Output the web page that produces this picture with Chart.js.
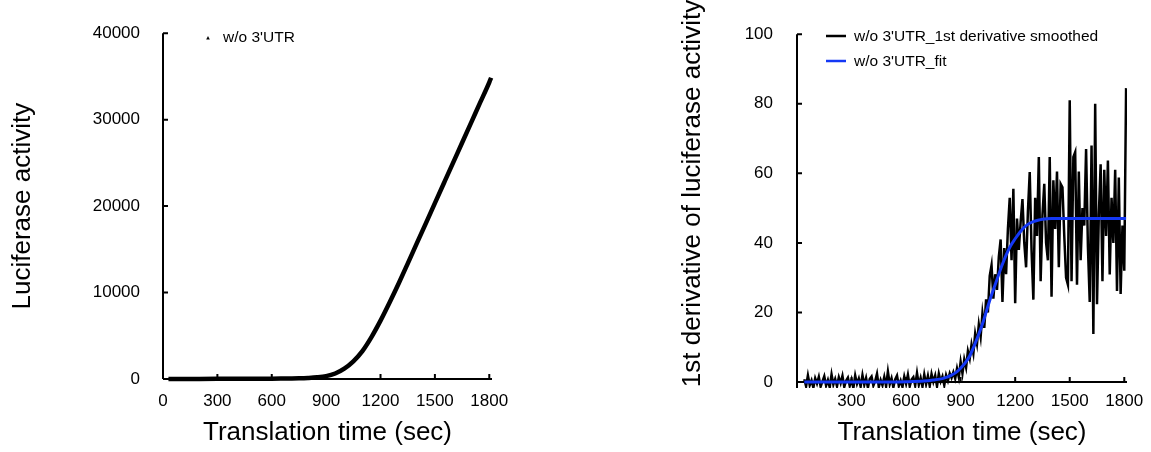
<!DOCTYPE html>
<html>
<head>
<meta charset="utf-8">
<script src="https://cdn.jsdelivr.net/npm/chart.js@4.4.1/dist/chart.umd.min.js"></script>
<style>
  html, body { margin: 0; padding: 0; background: #fff; }
  #left { position: absolute; left: 0; top: 0; width: 575px; height: 452px; }
  #right { position: absolute; left: 575px; top: 0; width: 576px; height: 452px; }
</style>
</head>
<body>
<div id="left"><canvas id="lucChart"></canvas></div>
<div id="right"><canvas id="derivChart"></canvas></div>
<script>
// tick labels
const xTickValues = [0, 300, 600, 900, 1200, 1500, 1800];
const lucYTicks = [0, 10000, 20000, 30000, 40000];
const derivYTicks = [0, 20, 40, 60, 80, 100];

// left: luciferase activity (w/o 3'UTR)
const lucTimes = [30, 100, 200, 300, 400, 500, 600, 650, 700, 750, 800, 850, 900, 950, 1000, 1050,
  1100, 1150, 1200, 1250, 1300, 1350, 1400, 1450, 1500, 1550, 1600, 1650, 1700, 1750, 1800, 1810];
const lucValues = [0, 5, 10, 15, 20, 25, 35, 45, 60, 80, 120, 190, 330, 640, 1200, 2050,
  3230, 4850, 6750, 8850, 11050, 13350, 15680, 18010, 20340, 22670, 25000, 27330, 29660, 31990, 34320, 34850];

// right: 1st derivative smoothed
const derivTimes = [
  40, 50, 60, 70, 80, 90, 100, 110, 120, 130,
  140, 150, 160, 170, 180, 190, 200, 210, 220, 230,
  240, 250, 260, 270, 280, 290, 300, 310, 320, 330,
  340, 350, 360, 370, 380, 390, 400, 410, 420, 430,
  440, 450, 460, 470, 480, 490, 500, 510, 520, 530,
  540, 550, 560, 570, 580, 590, 600, 610, 620, 630,
  640, 650, 660, 670, 680, 690, 700, 710, 720, 730,
  740, 750, 760, 770, 780, 790, 800, 810, 820, 830,
  840, 850, 860, 870, 880, 890, 900, 910, 920, 930,
  940, 950, 960, 970, 980, 990, 1000, 1010, 1020, 1030,
  1040, 1050, 1060, 1070, 1080, 1090, 1100, 1110, 1120, 1130,
  1140, 1150, 1160, 1170, 1180, 1190, 1200, 1210, 1220, 1230,
  1240, 1250, 1260, 1270, 1280, 1290, 1300, 1310, 1320, 1330,
  1340, 1350, 1360, 1370, 1380, 1390, 1400, 1410, 1420, 1430,
  1440, 1450, 1460, 1470, 1480, 1490, 1500, 1510, 1520, 1530,
  1540, 1550, 1560, 1570, 1580, 1590, 1600, 1610, 1620, 1630,
  1640, 1650, 1660, 1670, 1680, 1690, 1700, 1710, 1720, 1730,
  1740, 1750, 1760, 1770, 1780, 1790, 1800, 1810];
const derivValues = [
  0.8, -1.2, 1.9, -0.9, 0.5, -1.6, 1.1, -0.4, 1.5, -1.3,
  0.2, 1.7, -1.0, 0.6, -1.5, 2.2, -0.7, 0.9, -1.2, 1.4,
  -0.3, 1.8, -1.4, 0.4, 1.3, -1.1, 0.7, -1.7, 1.9, -0.5,
  1.0, -1.3, 2.0, -0.8, 1.2, -1.6, 0.9, 1.6, -1.0, 0.3,
  2.4, -1.4, 0.6, -0.9, 1.5, -1.2, 3.0, -0.6, 1.1, -1.5,
  0.8, 1.9, -1.1, 0.4, -1.4, 1.6, -0.5, 2.1, -1.2, 0.7,
  1.4, -1.0, 2.6, -0.8, 1.2, -1.3, 2.2, -0.6, 1.8, -1.1,
  2.3, 0.1, 1.9, -1.2, 2.4, 0.2, 1.6, -0.9, 2.0, 0.4,
  2.5, 1.2, 2.8, 1.0, 3.9, 1.4, 5.8, 2.5, 6.5, 4.2,
  8.9, 6.8, 10.8, 8.2, 13.9, 11.0, 16.5, 13.0, 19.8, 15.6,
  23.8, 20.0, 30.5, 33.6, 24.0, 31.0, 26.5, 36.0, 41.0, 23.0,
  38.5, 31.0, 44.0, 53.0, 35.0, 55.6, 22.7, 47.0, 38.0, 46.0,
  52.6, 40.0, 33.0, 49.0, 60.4, 38.0, 23.7, 53.0, 42.0, 64.7,
  29.0, 48.0, 57.0, 40.0, 35.0, 64.7, 24.5, 58.0, 44.0, 60.5,
  33.0, 57.0, 56.0, 42.0, 30.0, 28.0, 81.0, 29.0, 64.7, 66.1,
  28.0, 60.5, 35.0, 50.0, 45.0, 67.0, 39.0, 23.0, 68.0, 13.8,
  80.0, 22.4, 48.0, 62.6, 29.0, 61.0, 42.0, 63.7, 30.9, 53.0,
  40.0, 61.0, 26.2, 58.8, 25.3, 45.0, 32.0, 84.5];

// right: fit
const fitTimes = [40, 200, 400, 600, 700, 750, 800, 825, 850, 875, 900, 925, 950, 975, 1000, 1025, 1050,
  1075, 1100, 1125, 1150, 1175, 1200, 1225, 1250, 1275, 1300, 1325, 1350, 1400, 1500, 1600, 1700, 1810];
const fitValues = [0, 0, 0, 0.1, 0.3, 0.6, 1.0, 1.4, 2.0, 2.8, 4.0, 5.5, 7.5, 10.5, 13.8, 17.5, 21.8,
  25.8, 29.5, 33.2, 36.5, 39.2, 41.2, 43.0, 44.5, 45.5, 46.1, 46.5, 46.8, 47.0, 47.0, 47.0, 47.0, 47.0];

const FONT = '"Liberation Sans", Arial, sans-serif';
Chart.defaults.font.family = FONT;
Chart.defaults.color = '#000';

function pairs(xs, ys) {
  return xs.map((x, i) => ({ x: x, y: ys[i] }));
}

// axis lines + inward tick marks, x axis crosses at y = 0
const axesPlugin = {
  id: 'excelAxes',
  beforeDatasetsDraw(chart) {
    const ctx = chart.ctx;
    const a = chart.chartArea;
    const x = chart.scales.x, y = chart.scales.y;
    const y0 = y.getPixelForValue(0);
    ctx.save();
    ctx.strokeStyle = '#000';
    ctx.lineWidth = 2;
    ctx.beginPath();
    ctx.moveTo(a.left, a.top);
    ctx.lineTo(a.left, a.bottom);
    ctx.moveTo(a.left, y0);
    ctx.lineTo(a.right, y0);
    x.ticks.forEach(function (t) {
      const px = x.getPixelForValue(t.value);
      ctx.moveTo(px, y0);
      ctx.lineTo(px, y0 - 5);
    });
    y.ticks.forEach(function (t) {
      const py = y.getPixelForValue(t.value);
      ctx.moveTo(a.left, py);
      ctx.lineTo(a.left + 5, py);
    });
    ctx.stroke();
    ctx.restore();
  }
};

// legend drawn inside the plot
const legendPlugin = {
  id: 'innerLegend',
  afterDraw(chart, args, opts) {
    const ctx = chart.ctx;
    ctx.save();
    ctx.font = '15.5px ' + FONT;
    ctx.textBaseline = 'middle';
    ctx.fillStyle = '#000';
    chart.data.datasets.forEach(function (ds, i) {
      const yy = opts.y + i * opts.rowGap;
      if (ds.pointStyle === 'triangle') {
        ctx.beginPath();
        ctx.moveTo(opts.markX, yy - 2);
        ctx.lineTo(opts.markX + 1.8, yy + 1.4);
        ctx.lineTo(opts.markX - 1.8, yy + 1.4);
        ctx.closePath();
        ctx.fill();
      } else {
        ctx.strokeStyle = ds.borderColor;
        ctx.lineWidth = 2.5;
        ctx.beginPath();
        ctx.moveTo(opts.markX - 10, yy - 1);
        ctx.lineTo(opts.markX + 10, yy - 1);
        ctx.stroke();
      }
      ctx.fillText(ds.label, opts.textX, yy);
    });
    ctx.restore();
  }
};

const sideTitlePlugin = {
  id: 'sideTitle',
  afterDraw(chart, args, opts) {
    if (!opts.text) return;
    const ctx = chart.ctx;
    ctx.save();
    ctx.translate(opts.x, opts.y);
    ctx.rotate(-Math.PI / 2);
    ctx.font = '26px ' + FONT;
    ctx.fillStyle = '#000';
    ctx.textAlign = 'center';
    ctx.textBaseline = 'middle';
    ctx.fillText(opts.text, 0, 0);
    ctx.restore();
  }
};

function xAxis(height, pad, hideZero) {
  return {
    type: 'linear',
    min: 0,
    max: 1815,
    afterBuildTicks: function (s) { s.ticks = xTickValues.map(v => ({ value: v })); },
    afterFit: function (s) { s.height = height; },
    grid: { display: false, drawTicks: false },
    border: { display: false },
    ticks: {
      font: { size: 17 },
      padding: pad,
      maxRotation: 0,
      autoSkip: false,
      callback: function (v) { return (hideZero && v === 0) ? '' : String(v); }
    },
    title: { display: true, text: 'Translation time (sec)', font: { size: 26 }, padding: { top: 0, bottom: 4 } }
  };
}

// left chart
new Chart(document.getElementById('lucChart'), {
  type: 'line',
  data: {
    datasets: [{
      label: "w/o 3'UTR",
      data: pairs(lucTimes, lucValues),
      borderColor: '#000',
      backgroundColor: '#000',
      borderWidth: 4.5,
      pointRadius: 0,
      pointStyle: 'triangle',
      cubicInterpolationMode: 'monotone',
      clip: false
    }]
  },
  options: {
    responsive: true,
    maintainAspectRatio: false,
    animation: false,
    layout: { padding: { left: 0, right: 83, top: 19.5, bottom: 0 } },
    plugins: {
      legend: { display: false },
      tooltip: { enabled: false },
      innerLegend: { markX: 208, textX: 223, y: 38, rowGap: 25 }
    },
    scales: {
      x: xAxis(73, 12, false),
      y: {
        min: 0,
        max: 40000,
        afterBuildTicks: function (s) { s.ticks = lucYTicks.map(v => ({ value: v })); },
        afterFit: function (s) { s.width = 163; },
        grid: { display: false, drawTicks: false },
        border: { display: false },
        ticks: { font: { size: 17 }, padding: 23, callback: v => String(v) },
        title: { display: true, text: 'Luciferase activity', font: { size: 26 }, padding: { top: 7, bottom: 0 } }
      }
    }
  },
  plugins: [axesPlugin, legendPlugin]
});

// right chart
new Chart(document.getElementById('derivChart'), {
  type: 'line',
  data: {
    datasets: [{
      label: "w/o 3'UTR_1st derivative smoothed",
      data: pairs(derivTimes, derivValues),
      borderColor: '#000',
      borderWidth: 2.5,
      pointRadius: 0,
      tension: 0,
      order: 1
    }, {
      label: "w/o 3'UTR_fit",
      data: pairs(fitTimes, fitValues),
      borderColor: '#1438f5',
      borderWidth: 3,
      pointRadius: 0,
      cubicInterpolationMode: 'monotone',
      order: 0
    }]
  },
  options: {
    responsive: true,
    maintainAspectRatio: false,
    animation: false,
    layout: { padding: { left: 0, right: 24, top: 28, bottom: 0 } },
    plugins: {
      legend: { display: false },
      tooltip: { enabled: false },
      innerLegend: { markX: 261, textX: 279, y: 37, rowGap: 25 },
      sideTitle: { text: '1st derivative of luciferase activity', x: 117.5, y: 193.5 }
    },
    scales: {
      x: xAxis(64, 3, true),
      y: {
        min: -1.7,
        max: 100,
        afterBuildTicks: function (s) { s.ticks = derivYTicks.map(v => ({ value: v })); },
        afterFit: function (s) { s.width = 222; },
        grid: { display: false, drawTicks: false },
        border: { display: false },
        ticks: { font: { size: 17 }, padding: 24, callback: v => String(v) }
      }
    }
  },
  plugins: [axesPlugin, legendPlugin, sideTitlePlugin]
});
</script>
</body>
</html>
